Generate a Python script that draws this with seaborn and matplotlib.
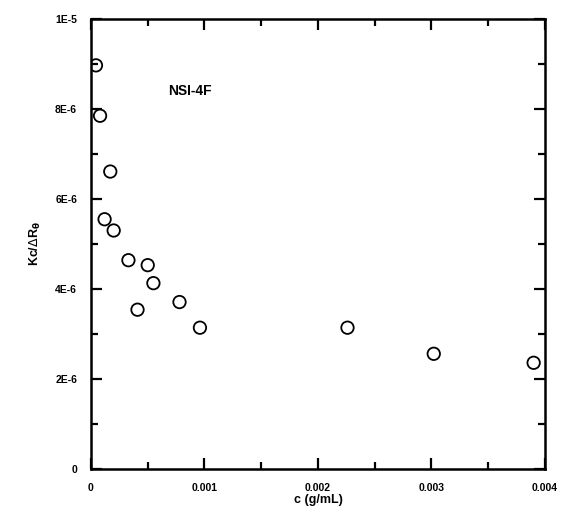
import matplotlib
matplotlib.use("Agg")
import matplotlib.pyplot as plt
import seaborn as sns
import pandas as pd
from matplotlib.ticker import FixedLocator, FixedFormatter, MultipleLocator

conc = [0.000044, 0.00008, 0.00017, 0.00012, 0.00020, 0.00033, 0.00050, 0.00055,
        0.00041, 0.00078, 0.00096, 0.00226, 0.00302, 0.00390]
kc_dr = [8.97e-6, 7.85e-6, 6.61e-6, 5.55e-6, 5.30e-6, 4.64e-6, 4.53e-6, 4.13e-6,
         3.54e-6, 3.71e-6, 3.14e-6, 3.14e-6, 2.56e-6, 2.36e-6]
x_ticks = [0, 0.001, 0.002, 0.003, 0.004]
x_labels = ["0", "0.001", "0.002", "0.003", "0.004"]
y_ticks = [0, 2e-6, 4e-6, 6e-6, 8e-6, 1e-5]
y_labels = ["0", "2E-6", "4E-6", "6E-6", "8E-6", "1E-5"]

sns.set_style("ticks")
plt.rcParams['font.family'] = ['Liberation Sans', 'DejaVu Sans']

df = pd.DataFrame({"c": conc, "k": kc_dr})
fig = plt.figure(figsize=(5.64, 5.11), dpi=100)
ax = fig.add_axes([0.1613, 0.0822, 0.805, 0.8806])

sns.scatterplot(data=df, x="c", y="k", ax=ax, marker="o", s=80,
                facecolors="none", edgecolor="black", linewidth=1.3)

ax.set_xlim(0, 0.004)
ax.set_ylim(0, 1e-5)
ax.xaxis.set_major_locator(FixedLocator(x_ticks))
ax.xaxis.set_major_formatter(FixedFormatter(x_labels))
ax.xaxis.set_minor_locator(MultipleLocator(0.0005))
ax.yaxis.set_major_locator(FixedLocator(y_ticks))
ax.yaxis.set_major_formatter(FixedFormatter(y_labels))
ax.yaxis.set_minor_locator(MultipleLocator(1e-6))
ax.tick_params(which="both", direction="in", top=True, right=True, width=1.6,
               labelsize=7.5, color="black", labelcolor="black")
ax.tick_params(which="major", length=8, pad=10)
ax.tick_params(which="minor", length=5)
for lab in ax.get_xticklabels() + ax.get_yticklabels():
    lab.set_fontweight("bold")
for sp in ax.spines.values():
    sp.set_linewidth(1.8)
    sp.set_color("black")
    sp.set_visible(True)

ax.set_xlabel("c (g/mL)", fontsize=9, fontweight="bold", labelpad=1, color="black")
ax.set_ylabel(r"Kc/$\Delta$R$_\mathbf{\theta}$", fontsize=9, fontweight="bold",
              labelpad=9, color="black")
ax.text(0.00087, 8.4e-6, "NSI-4F", fontsize=10, fontweight="bold", ha="center",
        va="center", color="black")

fig.savefig("out.png", dpi=100)
